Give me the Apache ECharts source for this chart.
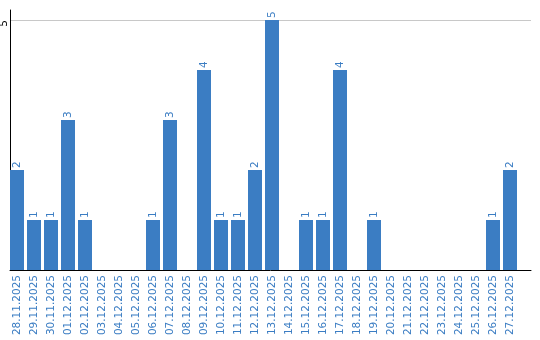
<!DOCTYPE html>
<html>
<head>
<meta charset="utf-8">
<script src="https://cdn.jsdelivr.net/npm/echarts@6/dist/echarts.min.js"></script>
<style>html,body{margin:0;padding:0;background:#fff}#c{width:540px;height:340px}</style>
</head>
<body>
<div id="c"></div>
<script>
var categories = ["28.11.2025","29.11.2025","30.11.2025","01.12.2025","02.12.2025","03.12.2025","04.12.2025","05.12.2025","06.12.2025","07.12.2025","08.12.2025","09.12.2025","10.12.2025","11.12.2025","12.12.2025","13.12.2025","14.12.2025","15.12.2025","16.12.2025","17.12.2025","18.12.2025","19.12.2025","20.12.2025","21.12.2025","22.12.2025","23.12.2025","24.12.2025","25.12.2025","26.12.2025","27.12.2025"];
var values = [2,1,1,3,1,0,0,0,1,3,0,4,1,1,2,5,0,1,1,4,0,1,0,0,0,0,0,0,1,2];
var yTicks = [5];

var blue = '#3b7dc3';
var font = 'DejaVu Sans';
var chart = echarts.init(document.getElementById('c'), null, {renderer: 'canvas'});
chart.setOption({
  animation: false,
  grid: [
    {left: 10, right: 9, top: 10, bottom: 70, containLabel: false, outerBoundsMode: 'none'},
    {left: 8.5, width: 510, top: 10, bottom: 70, containLabel: false, outerBoundsMode: 'none'}
  ],
  xAxis: [
    {gridIndex: 0, type: 'value', min: 0, max: 1,
      axisLine: {show: true, onZero: false, lineStyle: {color: '#000', width: 1}},
      axisTick: {show: false}, axisLabel: {show: false}, splitLine: {show: false}},
    {gridIndex: 1, type: 'category', data: categories, boundaryGap: true,
      axisLine: {show: false}, axisTick: {show: false},
      axisLabel: {interval: 0, rotate: 90, margin: 5, color: blue, fontFamily: font, fontSize: 10.5}}
  ],
  yAxis: [
    {gridIndex: 0, type: 'value', min: 0, max: 5.2, interval: 5,
      axisLine: {show: true, lineStyle: {color: '#000', width: 1}},
      axisTick: {show: false},
      axisLabel: {rotate: 90, margin: 6, align: 'right', verticalAlign: 'middle',
        color: '#000', fontFamily: font, fontSize: 10.5,
        showMaxLabel: false,
        formatter: function (v) { return yTicks.indexOf(v) >= 0 ? String(v) : ''; }},
      splitLine: {show: true, showMaxLine: false, showMinLine: false, lineStyle: {color: '#c8c8c8', width: 1}}},
    {gridIndex: 1, type: 'value', min: 0, max: 5.2, show: false}
  ],
  series: [{
    type: 'bar', xAxisIndex: 1, yAxisIndex: 1, data: values, barWidth: 14,
    itemStyle: {color: blue},
    label: {show: true, position: 'top', rotate: 90, align: 'left', verticalAlign: 'middle', distance: 2,
      color: blue, fontFamily: font, fontSize: 10.5,
      formatter: function (p) { return p.value > 0 ? String(p.value) : ''; }}
  }]
});
</script>
</body>
</html>
